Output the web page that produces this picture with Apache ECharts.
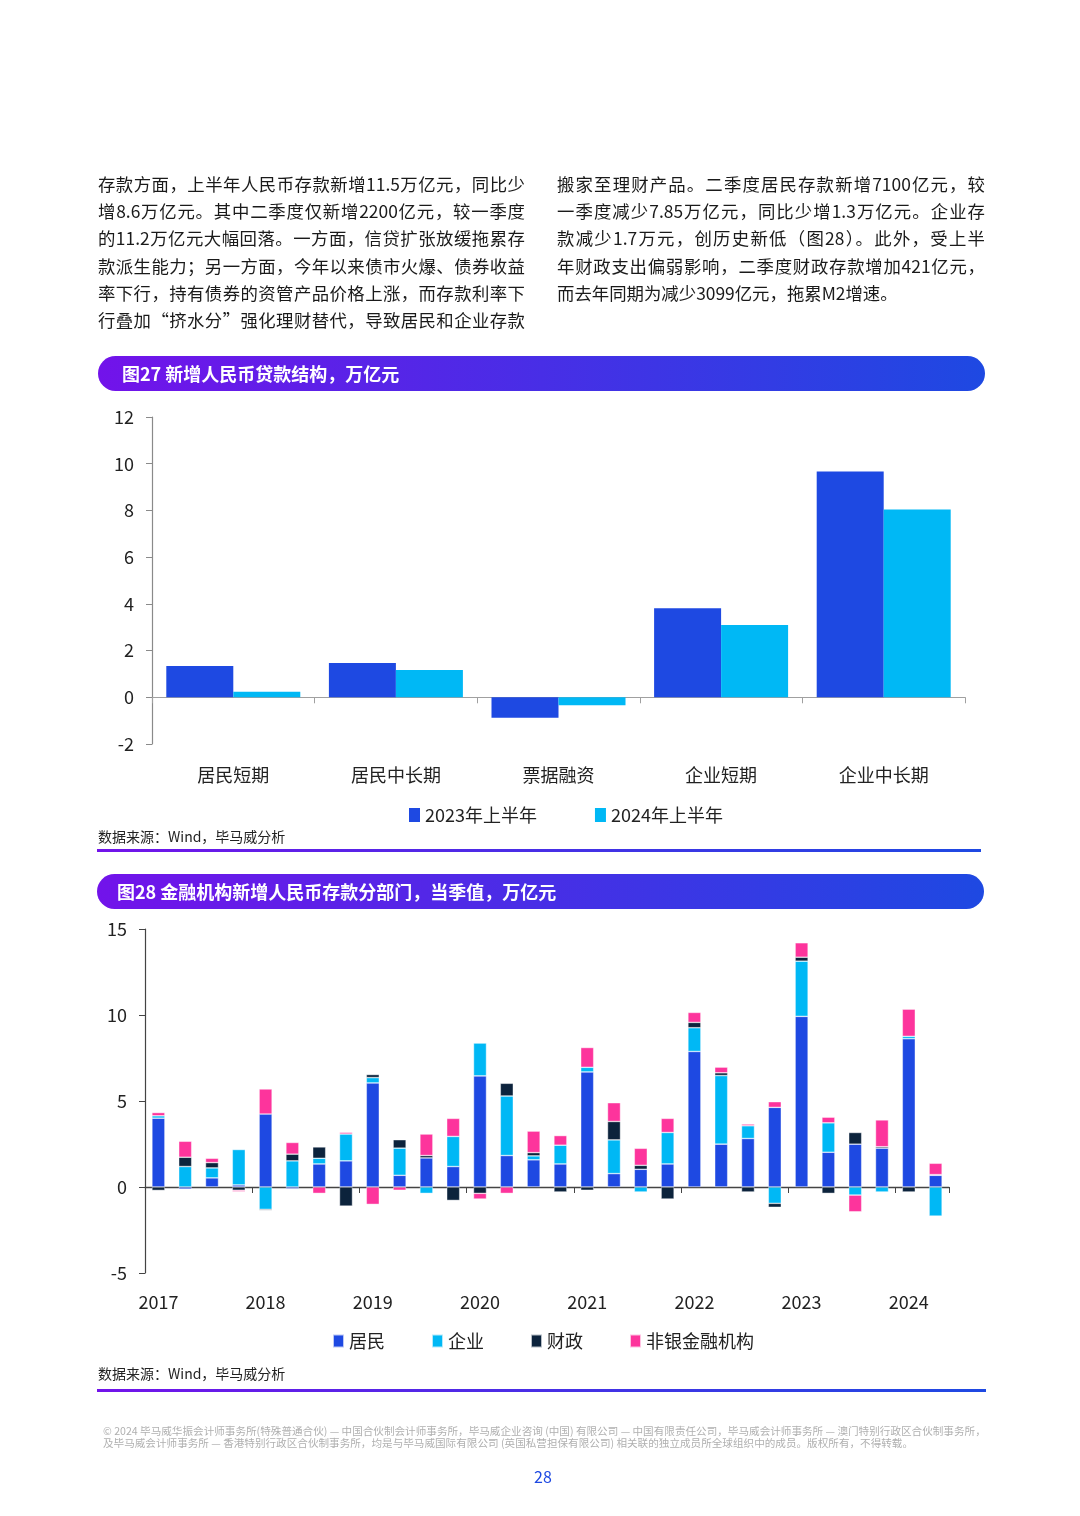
<!DOCTYPE html>
<html><head><meta charset="utf-8">
<script src="https://cdn.jsdelivr.net/npm/echarts@6/dist/echarts.min.js"></script>
<style>
body{margin:0;width:1080px;height:1516px;position:relative;background:#fff;font-family:"Noto Sans CJK SC","Noto Sans",sans-serif;overflow:hidden}
#chart{position:absolute;left:0;top:0;width:1080px;height:1516px}
.col{position:absolute;font-size:17.4px;color:#1a1a1a;line-height:27.2px;z-index:2}
.col div{text-align:justify;text-align-last:justify}
.col div.last{text-align-last:left}
.banner{position:absolute;height:35px;border-radius:18px;background:linear-gradient(90deg,#7213EA 0%,#1E49E2 100%);color:#fff;font-weight:bold;font-size:18px;line-height:35px;z-index:2;box-sizing:border-box}
.src{position:absolute;left:98px;font-size:14px;color:#222;z-index:2;line-height:18px}
.rule{position:absolute;height:3px;background:linear-gradient(90deg,#7213EA 0%,#1E49E2 100%);z-index:2}
.foot{position:absolute;left:103px;width:877px;font-size:10.6px;color:#b0b0b0;line-height:12.5px;z-index:2;white-space:nowrap}
.page{position:absolute;left:0;width:1086px;text-align:center;top:1464px;font-size:16px;color:#1E49E2;z-index:2}
</style></head>
<body>
<div id="chart"></div>
<div class="col" style="left:98px;top:170px;width:427px">
<div>存款方面，上半年人民币存款新增11.5万亿元，同比少</div>
<div>增8.6万亿元。其中二季度仅新增2200亿元，较一季度</div>
<div>的11.2万亿元大幅回落。一方面，信贷扩张放缓拖累存</div>
<div>款派生能力；另一方面，今年以来债市火爆、债券收益</div>
<div>率下行，持有债券的资管产品价格上涨，而存款利率下</div>
<div>行叠加“挤水分”强化理财替代，导致居民和企业存款</div>
</div>
<div class="col" style="left:557px;top:170px;width:428px">
<div>搬家至理财产品。二季度居民存款新增7100亿元，较</div>
<div>一季度减少7.85万亿元，同比少增1.3万亿元。企业存</div>
<div>款减少1.7万元，创历史新低（图28）。此外，受上半</div>
<div>年财政支出偏弱影响，二季度财政存款增加421亿元，</div>
<div class="last">而去年同期为减少3099亿元，拖累M2增速。</div>
</div>
<div class="banner" style="left:98px;top:356px;width:887px;padding-left:24px">图27 新增人民币贷款结构，万亿元</div>
<div class="src" style="top:827px">数据来源：Wind，毕马威分析</div>
<div class="rule" style="left:97px;top:849px;width:884px"></div>
<div class="banner" style="left:97px;top:874px;width:887px;padding-left:20px">图28 金融机构新增人民币存款分部门，当季值，万亿元</div>
<div class="src" style="top:1364px">数据来源：Wind，毕马威分析</div>
<div class="rule" style="left:97px;top:1389px;width:889px"></div>
<div class="foot" style="top:1425px">© 2024 毕马威华振会计师事务所(特殊普通合伙) — 中国合伙制会计师事务所，毕马威企业咨询 (中国) 有限公司 — 中国有限责任公司，毕马威会计师事务所 — 澳门特别行政区合伙制事务所，</div>
<div class="foot" style="top:1437px">及毕马威会计师事务所 — 香港特别行政区合伙制事务所，均是与毕马威国际有限公司 (英国私营担保有限公司) 相关联的独立成员所全球组织中的成员。版权所有，不得转载。</div>
<div class="page">28</div>
<script>
// Figure 27
const loanCategories = ['居民短期', '居民中长期', '票据融资', '企业短期', '企业中长期'];
const loans2023H1 = [1.34, 1.47, -0.88, 3.81, 9.67];
const loans2024H1 = [0.24, 1.17, -0.34, 3.09, 8.04];
const loanYTicks = [-2, 0, 2, 4, 6, 8, 10, 12];

// Figure 28
const quarters = ['2017Q1','2017Q2','2017Q3','2017Q4','2018Q1','2018Q2','2018Q3','2018Q4',
  '2019Q1','2019Q2','2019Q3','2019Q4','2020Q1','2020Q2','2020Q3','2020Q4',
  '2021Q1','2021Q2','2021Q3','2021Q4','2022Q1','2022Q2','2022Q3','2022Q4',
  '2023Q1','2023Q2','2023Q3','2023Q4','2024Q1','2024Q2'];
const household = [4.00,-0.12,0.53,0.12,4.24,-0.10,1.34,1.52,6.05,0.68,1.69,1.19,6.46,1.83,1.58,1.34,
  6.69,0.78,1.03,1.34,7.88,2.49,2.82,4.63,9.92,2.02,2.49,2.26,8.62,0.68];
const corporate = [0.14,1.19,0.58,2.06,-1.30,1.52,0.33,1.56,0.31,1.58,-0.37,1.75,1.91,3.46,0.23,1.09,
  0.27,1.96,-0.29,1.83,1.38,3.99,0.74,-0.95,3.21,1.71,-0.47,-0.29,0.14,-1.69];
const fiscal = [-0.20,0.54,0.31,-0.19,-0.06,0.39,0.66,-1.11,0.18,0.49,0.14,-0.78,-0.37,0.74,0.19,-0.29,
  -0.19,1.07,0.23,-0.70,0.31,0.16,-0.29,-0.23,0.23,-0.37,0.68,0.08,-0.29,0.04];
const nonbank = [0.19,0.93,0.25,-0.08,1.46,0.68,-0.37,0.10,-1.01,-0.19,1.25,1.05,-0.33,-0.37,1.25,0.56,
  1.15,1.09,0.99,0.82,0.58,0.33,0.10,0.33,0.84,0.33,-0.97,1.56,1.58,0.66];
const depositYTicks = [-5, 0, 5, 10, 15];

const C = {blue:'#1E49E2', cyan:'#00B8F5', navy:'#0C233C', pink:'#FD349C'};
const FF = '"Noto Sans CJK SC","Noto Sans",sans-serif';

const chart = echarts.init(document.getElementById('chart'));
const segBorder = {borderColor:'rgba(255,255,255,0.7)', borderWidth:0.6};
chart.setOption({
  animation:false,
  textStyle:{fontFamily:FF},
  grid:[
    {left:152, right:115, top:417, bottom:1516-744, containLabel:false},
    {left:145, right:131, top:929, bottom:1516-1273, containLabel:false}
  ],
  legend:[
    {data:['2023年上半年','2024年上半年'], left:404, top:801, itemWidth:11, itemHeight:14, itemGap:58,
     icon:'rect', textStyle:{fontSize:18, color:'#222', fontFamily:FF}},
    {data:['居民','企业','财政','非银金融机构'], left:327, top:1327, itemWidth:11, itemHeight:13, itemGap:46,
     icon:'rect', textStyle:{fontSize:18, color:'#222', fontFamily:FF}}
  ],
  xAxis:[
    {type:'category', gridIndex:0, data:loanCategories,
     axisLine:{onZero:true, lineStyle:{color:'#a0a0a0', width:1.2}},
     axisTick:{show:true, length:6, lineStyle:{color:'#a0a0a0'}},
     axisLabel:{margin:22, fontSize:18, color:'#222', fontFamily:FF}},
    {type:'category', gridIndex:1, data:quarters,
     axisLine:{onZero:true, lineStyle:{color:'#444', width:1.4}},
     axisTick:{show:true, interval:3, length:6, lineStyle:{color:'#444'}},
     axisLabel:{interval:3, margin:20, fontSize:18, color:'#222', fontFamily:FF,
       formatter:(v)=>v.slice(0,4)}}
  ],
  yAxis:[
    {type:'value', gridIndex:0, min:loanYTicks[0], max:loanYTicks[loanYTicks.length-1], interval:2,
     axisLine:{show:true, lineStyle:{color:'#8a8a8a', width:1.2}},
     axisTick:{show:true, length:6, lineStyle:{color:'#8a8a8a'}},
     splitLine:{show:false},
     axisLabel:{fontSize:18, color:'#222', margin:18, fontFamily:FF}},
    {type:'value', gridIndex:1, min:depositYTicks[0], max:depositYTicks[depositYTicks.length-1], interval:5,
     axisLine:{show:true, lineStyle:{color:'#444', width:1.2}},
     axisTick:{show:true, length:6, lineStyle:{color:'#444'}},
     splitLine:{show:false},
     axisLabel:{fontSize:18, color:'#222', margin:18, fontFamily:FF}}
  ],
  series:[
    {name:'2023年上半年', type:'bar', xAxisIndex:0, yAxisIndex:0, data:loans2023H1, barWidth:67, barGap:'0%',
     itemStyle:{color:C.blue}},
    {name:'2024年上半年', type:'bar', xAxisIndex:0, yAxisIndex:0, data:loans2024H1, barWidth:67, barGap:'0%',
     itemStyle:{color:C.cyan}},
    {name:'居民', type:'bar', stack:'dep', xAxisIndex:1, yAxisIndex:1, data:household, barWidth:13,
     itemStyle:Object.assign({color:C.blue}, segBorder)},
    {name:'企业', type:'bar', stack:'dep', xAxisIndex:1, yAxisIndex:1, data:corporate, barWidth:13,
     itemStyle:Object.assign({color:C.cyan}, segBorder)},
    {name:'财政', type:'bar', stack:'dep', xAxisIndex:1, yAxisIndex:1, data:fiscal, barWidth:13,
     itemStyle:Object.assign({color:C.navy}, segBorder)},
    {name:'非银金融机构', type:'bar', stack:'dep', xAxisIndex:1, yAxisIndex:1, data:nonbank, barWidth:13,
     itemStyle:Object.assign({color:C.pink}, segBorder)}
  ]
});
</script>
</body></html>
